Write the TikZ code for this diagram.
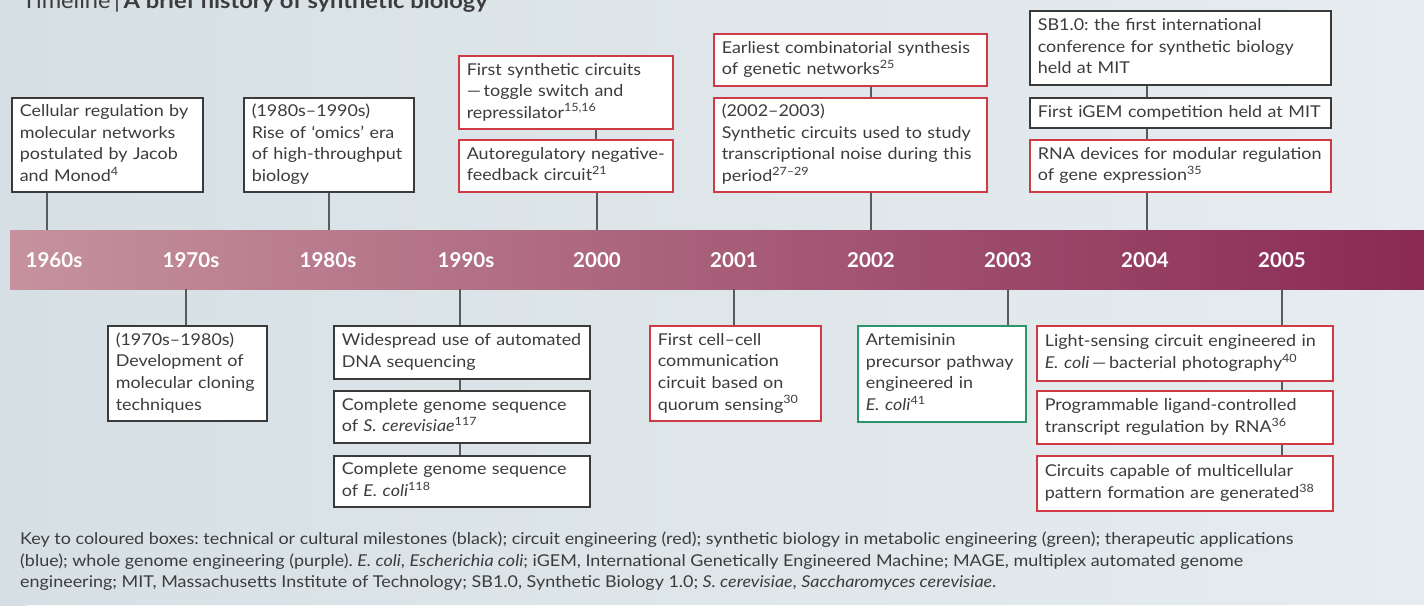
\documentclass[tikz,border=0pt]{standalone}
\usepackage{fontspec}
\setmainfont[FakeStretch=1.1]{Lato}
\newfontfamily\yrfont{Lato}
\frenchspacing
\definecolor{bgA}{HTML}{D6E0E4}
\definecolor{bgB}{HTML}{E6ECEF}
\definecolor{barL}{HTML}{C6929E}
\definecolor{barR}{HTML}{8A2A53}
\definecolor{bkC}{HTML}{3A3A3A}
\definecolor{rdC}{HTML}{D03A45}
\definecolor{gnC}{HTML}{2B9468}
\definecolor{txC}{HTML}{3C3C3C}
\definecolor{lnC}{HTML}{5A5A5A}
\begin{document}
\begin{tikzpicture}[x=1pt,y=-1pt,
  box/.style={draw=bkC, line width=1.6pt, fill=white, anchor=north west, inner xsep=8pt, inner ysep=0pt,
    align=left, text=txC, font=\fontsize{16.3}{21.6}\selectfont,
    execute at begin node=\strut, execute at end node=\strut},
  rbox/.style={box, draw=rdC},
  gbox/.style={box, draw=gnC},
  conn/.style={draw=lnC, line width=1.1pt},
  yr/.style={text=white, font=\yrfont\bfseries\fontsize{20.5}{22}\selectfont, inner sep=0pt, anchor=center}
]
\useasboundingbox (0,0) rectangle (1424,605);
\fill[white] (0,0) rectangle (1424,605);
\shade[left color=bgA, right color=bgB] (0,0) -- (1424,0) -- (1424,605) -- (32,605) arc[start angle=270, end angle=180, radius=32] -- cycle;

% title
\node[anchor=base west, inner sep=0pt, font=\fontsize{21.5}{24}\selectfont, text=txC] (title) at (22,9) {Timeline\,|\,\textbf{A brief history of synthetic biology}};

% bar
\node[anchor=north west, minimum width=1414pt, minimum height=59pt, inner sep=0pt, left color=barL, right color=barR] (bar) at (10,230) {};
\node[yr] (y60) at (54,260) {1960s};
\node[yr] (y70) at (191,260) {1970s};
\node[yr] (y80) at (328,260) {1980s};
\node[yr] (y90) at (466,260) {1990s};
\node[yr] (y00) at (597,260) {2000};
\node[yr] (y01) at (734,260) {2001};
\node[yr] (y02) at (871,260) {2002};
\node[yr] (y03) at (1008,260) {2003};
\node[yr] (y04) at (1145,260) {2004};
\node[yr] (y05) at (1282,260) {2005};

% top boxes
\node[box, text width=175pt, minimum height=94pt] (b1) at (11,97) {Cellular regulation by\\molecular networks\\postulated by Jacob\\and Monod\textsuperscript{4}};
\node[box, text width=154pt, minimum height=94pt] (b2) at (243,97) {(1980s–1990s)\\Rise of ‘omics’ era\\of high-throughput\\biology};
\node[rbox, text width=198pt, minimum height=73pt] (b3a) at (458,55) {First synthetic circuits\\—\,toggle switch and\\repressilator\textsuperscript{15,16}};
\node[rbox, text width=198pt, minimum height=52pt] (b3b) at (458,139) {Autoregulatory negative-\\feedback circuit\textsuperscript{21}};
\node[rbox, text width=257pt, minimum height=52pt] (b4a) at (713,33) {Earliest combinatorial synthesis\\of genetic networks\textsuperscript{25}};
\node[rbox, text width=257pt, minimum height=94pt] (b4b) at (713,97) {(2002–2003)\\Synthetic circuits used to study\\transcriptional noise during this\\period\textsuperscript{27–29}};
\node[box, text width=285pt, minimum height=74pt] (b5a) at (1029,10) {SB1.0: the first international\\conference for synthetic biology\\held at MIT};
\node[box, text width=285pt, minimum height=30pt] (b5b) at (1029,97) {First iGEM competition held at MIT};
\node[rbox, text width=285pt, minimum height=52pt] (b5c) at (1029,139) {RNA devices for modular regulation\\of gene expression\textsuperscript{35}};

% bottom boxes
\node[box, text width=143pt, minimum height=95pt] (b6) at (107,325) {(1970s–1980s)\\Development of\\molecular cloning\\techniques};
\node[box, text width=240pt, minimum height=53pt] (b7a) at (333,325) {Widespread use of automated\\DNA sequencing};
\node[box, text width=240pt, minimum height=52pt] (b7b) at (333,390) {Complete genome sequence\\of \textit{S. cerevisiae}\textsuperscript{117}};
\node[box, text width=240pt, minimum height=51pt] (b7c) at (333,455) {Complete genome sequence\\of \textit{E. coli}\textsuperscript{118}};
\node[rbox, text width=155pt, minimum height=95pt] (b8) at (649,325) {First cell–cell\\communication\\circuit based on\\quorum sensing\textsuperscript{30}};
\node[gbox, text width=152pt, minimum height=96pt] (b9) at (857,325) {Artemisinin\\precursor pathway\\engineered in\\\textit{E. coli}\textsuperscript{41}};
\node[rbox, text width=280pt, minimum height=55pt] (b10a) at (1036,325) {Light-sensing circuit engineered in\\\textit{E. coli}\,—\,bacterial photography\textsuperscript{40}};
\node[rbox, text width=280pt, minimum height=53pt] (b10b) at (1036,390) {Programmable ligand-controlled\\transcript regulation by RNA\textsuperscript{36}};
\node[rbox, text width=280pt, minimum height=55pt] (b10c) at (1036,455) {Circuits capable of multicellular\\pattern formation are generated\textsuperscript{38}};

% connectors
\draw[conn] (b1.south -| 47,0) -- (bar.north -| 47,0);
\draw[conn] (b2.south -| 329,0) -- (bar.north -| 329,0);
\draw[conn] (b3a.south -| 596,0) -- (b3b.north -| 596,0);
\draw[conn] (b3b.south -| 597,0) -- (bar.north -| 597,0);
\draw[conn] (b4a.south -| 871,0) -- (b4b.north -| 871,0);
\draw[conn] (b4b.south -| 871,0) -- (bar.north -| 871,0);
\draw[conn] (b5a.south -| 1147,0) -- (b5b.north -| 1147,0);
\draw[conn] (b5b.south -| 1147,0) -- (b5c.north -| 1147,0);
\draw[conn] (b5c.south -| 1147,0) -- (bar.north -| 1147,0);
\draw[conn] (bar.south -| 186,0) -- (b6.north -| 186,0);
\draw[conn] (bar.south -| 460,0) -- (b7a.north -| 460,0);
\draw[conn] (b7a.south -| 460,0) -- (b7b.north -| 460,0);
\draw[conn] (b7b.south -| 460,0) -- (b7c.north -| 460,0);
\draw[conn] (bar.south -| 734,0) -- (b8.north -| 734,0);
\draw[conn] (bar.south -| 1008,0) -- (b9.north -| 1008,0);
\draw[conn] (bar.south -| 1282,0) -- (b10a.north -| 1282,0);
\draw[conn] (b10a.south -| 1282,0) -- (b10b.north -| 1282,0);
\draw[conn] (b10b.south -| 1282,0) -- (b10c.north -| 1282,0);

% footer
\node[anchor=north west, inner sep=0pt, align=left, text=txC, font=\fontsize{16.3}{21.5}\selectfont] (key) at (20,532) {Key to coloured boxes: technical or cultural milestones (black); circuit engineering (red); synthetic biology in metabolic engineering (green); therapeutic applications\\(blue); whole genome engineering (purple). \textit{E. coli}, \textit{Escherichia coli}; iGEM, International Genetically Engineered Machine; MAGE, multiplex automated genome\\engineering; MIT, Massachusetts Institute of Technology; SB1.0, Synthetic Biology 1.0; \textit{S. cerevisiae}, \textit{Saccharomyces cerevisiae}.};
\end{tikzpicture}
\end{document}
